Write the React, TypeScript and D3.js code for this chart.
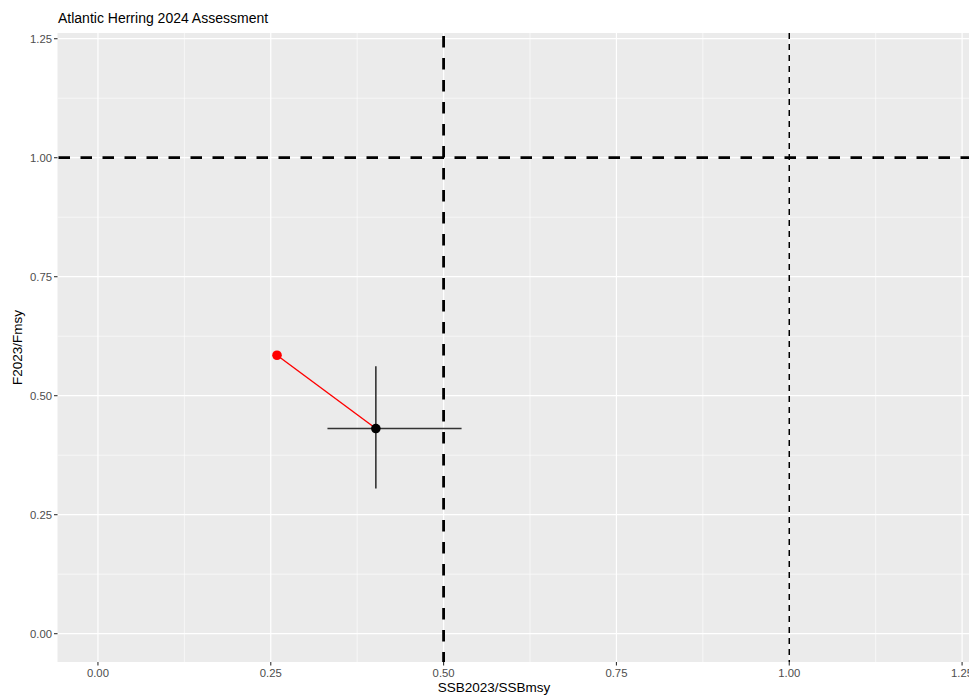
import { scaleLinear, range } from "d3";

// values
const xTicks = [0, 0.25, 0.5, 0.75, 1.0, 1.25];
const yTicks = [0, 0.25, 0.5, 0.75, 1.0, 1.25];
const xMinor = [0.125, 0.375, 0.625, 0.875, 1.125];
const yMinor = [0.125, 0.375, 0.625, 0.875, 1.125];

const ssbPrev = [0.259];
const fPrev = [0.585];
const ssbNow = [0.402];
const fNow = [0.431];
const ssbLow = [0.332];
const ssbHigh = [0.526];
const fLow = [0.305];
const fHigh = [0.562];

const thickRefX = [0.5];
const thinRefX = [1.0];
const refY = [1.0];

const W = 969;
const H = 696;
const m = { left: 57.5, top: 33, right: 0, bottom: 34 };
const font = "'Liberation Sans', Arial, sans-serif";

export default function App() {
	const x = scaleLinear()
		.domain([-0.0585, 1.26])
		.range([m.left, W - m.right]);
	const y = scaleLinear()
		.domain([-0.0595, 1.262])
		.range([H - m.bottom, m.top]);

	const pw = W - m.right - m.left;
	const ph = H - m.bottom - m.top;
	const fmt = (d: number) => d.toFixed(2);

	return (
		<svg
			width={W}
			height={H}
			style={{ position: "absolute", left: 0, top: 0, background: "#fff" }}
			fontFamily={font}
		>
			<defs>
				<clipPath id="panel">
					<rect x={m.left} y={m.top} width={pw} height={ph} />
				</clipPath>
			</defs>
			<text x={58} y={23} fontSize={14} fill="#000">
				Atlantic Herring 2024 Assessment
			</text>

			<rect x={m.left} y={m.top} width={pw} height={ph} fill="#EBEBEB" />

			<g clipPath="url(#panel)">
				{xMinor.map((d) => (
					<line key={"xm" + d} x1={x(d)} x2={x(d)} y1={m.top} y2={m.top + ph} stroke="#fff" strokeWidth={0.6} />
				))}
				{yMinor.map((d) => (
					<line key={"ym" + d} y1={y(d)} y2={y(d)} x1={m.left} x2={m.left + pw} stroke="#fff" strokeWidth={0.6} />
				))}
				{xTicks.map((d) => (
					<line key={"xg" + d} x1={x(d)} x2={x(d)} y1={m.top} y2={m.top + ph} stroke="#fff" strokeWidth={1.2} />
				))}
				{yTicks.map((d) => (
					<line key={"yg" + d} y1={y(d)} y2={y(d)} x1={m.left} x2={m.left + pw} stroke="#fff" strokeWidth={1.2} />
				))}

				{refY.map((d) => (
					<line key={"ry" + d} y1={y(d)} y2={y(d)} x1={m.left} x2={m.left + pw} stroke="#000" strokeWidth={2.8} strokeDasharray="11.5,10.5" strokeDashoffset={-1} />
				))}
				{thickRefX.map((d) => (
					<line key={"rx" + d} x1={x(d)} x2={x(d)} y1={m.top} y2={m.top + ph} stroke="#000" strokeWidth={2.8} strokeDasharray="11.5,10.5" strokeDashoffset={-3} />
				))}
				{thinRefX.map((d) => (
					<line key={"tx" + d} x1={x(d)} x2={x(d)} y1={m.top} y2={m.top + ph} stroke="#000" strokeWidth={1.5} strokeDasharray="6,5" />
				))}

				{range(ssbNow.length).map((i) => (
					<g key={"pt" + i}>
						<line x1={x(ssbPrev[i])} y1={y(fPrev[i])} x2={x(ssbNow[i])} y2={y(fNow[i])} stroke="#FF0000" strokeWidth={1.4} />
						<line x1={x(ssbLow[i])} x2={x(ssbHigh[i])} y1={y(fNow[i])} y2={y(fNow[i])} stroke="#333" strokeWidth={1.6} />
						<line x1={x(ssbNow[i])} x2={x(ssbNow[i])} y1={y(fLow[i])} y2={y(fHigh[i])} stroke="#333" strokeWidth={1.6} />
						<circle cx={x(ssbPrev[i])} cy={y(fPrev[i])} r={4.8} fill="#FF0000" />
						<circle cx={x(ssbNow[i])} cy={y(fNow[i])} r={4.8} fill="#000" />
					</g>
				))}
			</g>

			{xTicks.map((d) => (
				<g key={"xt" + d}>
					<line x1={x(d)} x2={x(d)} y1={m.top + ph} y2={m.top + ph + 3.5} stroke="#333" strokeWidth={1.1} />
					<text x={x(d)} y={677} textAnchor="middle" fontSize={11.3} fill="#4D4D4D">
						{fmt(d)}
					</text>
				</g>
			))}
			{yTicks.map((d) => (
				<g key={"yt" + d}>
					<line x1={m.left - 3.5} x2={m.left} y1={y(d)} y2={y(d)} stroke="#333" strokeWidth={1.1} />
					<text x={m.left - 5.5} y={y(d)} dy="0.36em" textAnchor="end" fontSize={11.3} fill="#4D4D4D">
						{fmt(d)}
					</text>
				</g>
			))}

			<text x={m.left + (x(1.2) - m.left + 3) / 2} y={692} textAnchor="middle" fontSize={13.5} fill="#000">
				SSB2023/SSBmsy
			</text>
			<text
				transform={`translate(22,${m.top + ph / 2}) rotate(-90)`}
				textAnchor="middle"
				fontSize={13.5}
				fill="#000"
			>
				F2023/Fmsy
			</text>
		</svg>
	);
}
